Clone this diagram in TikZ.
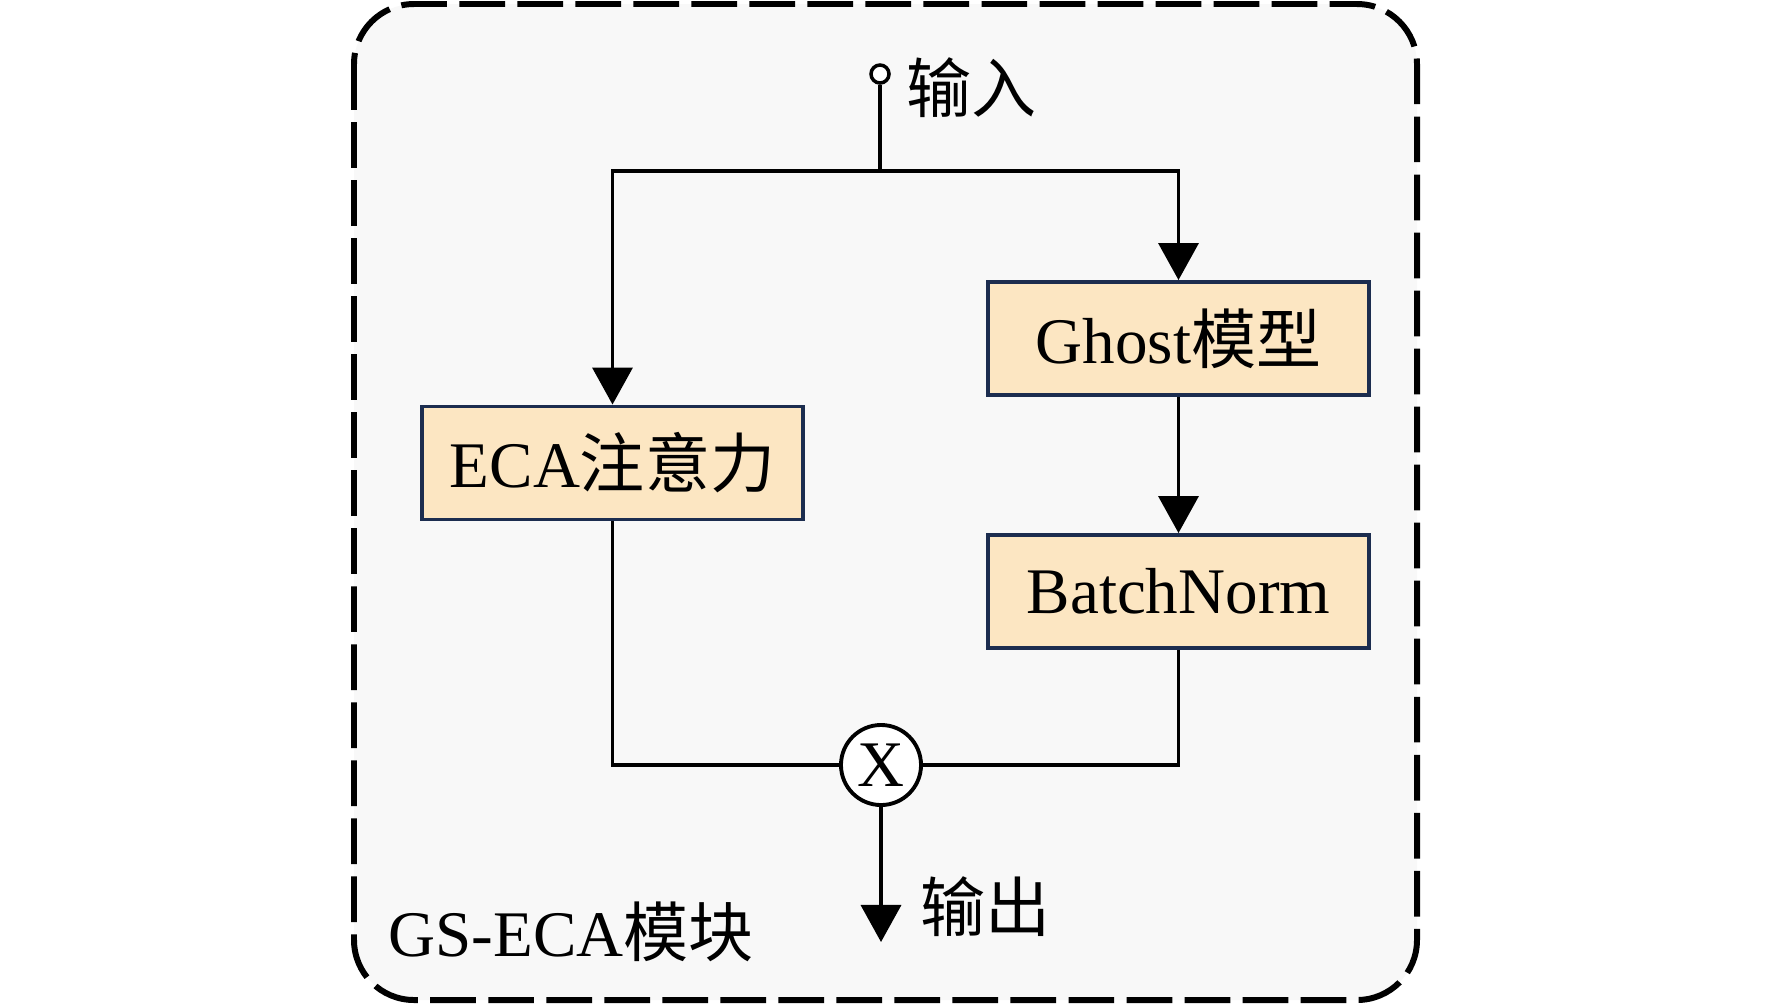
\documentclass[tikz,border=0pt]{standalone}
\usepackage{fontspec}
\setmainfont{Liberation Serif}
\newfontfamily\cjk{Noto Sans CJK SC}
\usepackage{tikz}
\usetikzlibrary{shapes,arrows.meta,positioning,calc}
\newcommand{\zh}[1]{{\cjk #1}}
\newcommand{\labelfont}{\fontsize{18.5pt}{22pt}\selectfont}
\definecolor{boxfill}{HTML}{FCE6C2}
\definecolor{boxline}{HTML}{1C2D4F}
\definecolor{panel}{HTML}{F8F8F8}

\begin{document}
\begin{tikzpicture}[x=0.01cm, y=-0.01cm,
    box/.style={draw=boxline, fill=boxfill, line width=1.1pt, rectangle, minimum width=3.81cm, minimum height=1.13cm, font=\labelfont},
    txt/.style={inner sep=0pt, anchor=west, font=\labelfont},
    arrow/.style={-{Triangle[length=0.37cm, width=0.40cm]}, line width=1pt},
    line/.style={line width=1pt}
]
\useasboundingbox (0,0) rectangle (1772,1005);

% Module frame
\draw[fill=panel, line width=1.7pt, dash pattern=on 13pt off 3.5pt, rounded corners=0.6cm] (354,4) rectangle (1417,1000);

% Input
\node[draw, circle, fill=white, line width=1pt, inner sep=0pt, minimum size=0.18cm] (in) at (880,74) {};
\node[txt] (intext) at (906,88) {\zh{输入}};
\coordinate (split) at (880,171);

% Blocks
\node[box] (eca) at (612.5,463) {ECA\zh{注意力}};
\node[box] (ghost) at (1178.5,338.5) {Ghost\zh{模型}};
\node[box] (bn) at (1178.5,591.5) {BatchNorm};

% Multiply
\node[draw, circle, fill=white, line width=1.1pt, inner sep=0pt, minimum size=0.8cm, font=\labelfont] (mul) at (881,765) {X};

% Output
\coordinate (out) at (881,942);
\node[txt] (outtext) at (920,907) {\zh{输出}};
\node[txt] (title) at (388,932) {GS-ECA\zh{模块}};

% Arrows
\draw[line] (in) -- (split);
\draw[arrow] (split) -| (eca.north);
\draw[arrow] (split) -| (ghost.north);
\draw[arrow] (ghost) -- (bn);
\draw[line] (eca.south) |- (mul.west);
\draw[line] (bn.south) |- (mul.east);
\draw[arrow] (mul) -- (out);
\end{tikzpicture}
\end{document}
